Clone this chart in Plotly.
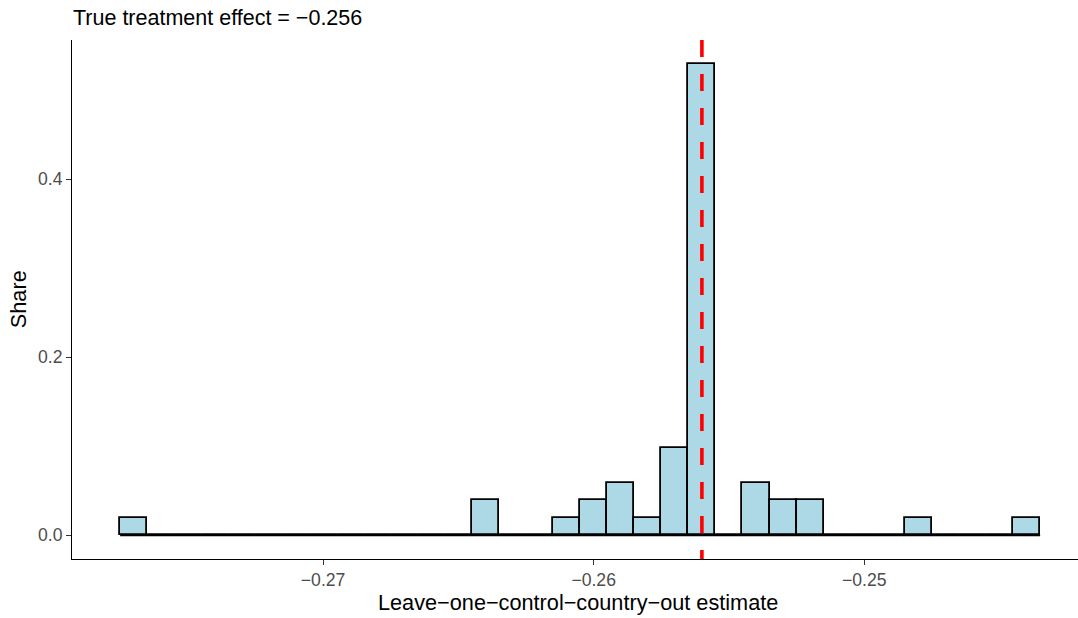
import plotly.graph_objects as go

# Histogram of leave-one-control-country-out estimates (51 estimates, 34 bins)
bin_start = -0.2775
bin_width = 0.001
bin_counts = [1, 0, 0, 0, 0, 0, 0, 0, 0, 0, 0, 0, 0, 2, 0, 0, 1, 2, 3, 1,
              5, 27, 0, 3, 2, 2, 0, 0, 0, 1, 0, 0, 0, 1]
n_estimates = 51
true_effect = -0.256

x_ticks = [-0.27, -0.26, -0.25]
x_tick_labels = ["\u22120.27", "\u22120.26", "\u22120.25"]
y_ticks = [0.0, 0.2, 0.4]
y_tick_labels = ["0.0", "0.2", "0.4"]

centers = [bin_start + bin_width * (i + 0.5) for i in range(len(bin_counts))]
shares = [c / n_estimates for c in bin_counts]
bin_end = bin_start + bin_width * len(bin_counts)

FONT = "Liberation Sans"

fig = go.Figure()

# baseline outline for empty bins
fig.add_trace(go.Scatter(
    x=[bin_start, bin_end], y=[0, 0], mode="lines",
    line=dict(color="black", width=1.8), hoverinfo="skip", showlegend=False,
))

fig.add_trace(go.Bar(
    x=centers, y=shares, width=bin_width,
    marker=dict(color="#ADD8E6", line=dict(color="black", width=1.8)),
    showlegend=False,
))

fig.add_shape(
    type="line", xref="x", yref="paper",
    x0=true_effect, x1=true_effect, y0=1, y1=0,
    line=dict(color="#FF0000", width=3.6, dash="17px,17px"),
    layer="above",
)

axis_common = dict(
    showgrid=False, zeroline=False, showline=True, linecolor="black", linewidth=1.1,
    ticks="outside", ticklen=5, tickwidth=1.1, tickcolor="#333333",
    tickfont=dict(family=FONT, size=17.6, color="#4D4D4D"),
)

fig.update_xaxes(
    range=[-0.27928, -0.24210], tickmode="array",
    tickvals=x_ticks, ticktext=x_tick_labels, **axis_common,
)
fig.update_yaxes(
    range=[-0.0267, 0.5563], tickmode="array",
    tickvals=y_ticks, ticktext=y_tick_labels, **axis_common,
)

fig.add_annotation(
    text=f"True treatment effect = \u2212{abs(true_effect):.3f}",
    xref="paper", yref="paper", x=-0.0005, y=1.0424,
    xanchor="left", yanchor="middle", showarrow=False,
    font=dict(family=FONT, size=21.5, color="black"),
)
fig.add_annotation(
    text="Leave\u2212one\u2212control\u2212country\u2212out estimate",
    xref="paper", yref="paper", x=0.503, y=-0.0845,
    xanchor="center", yanchor="middle", showarrow=False,
    font=dict(family=FONT, size=21.7, color="black"),
)
fig.add_annotation(
    text="Share", textangle=-90,
    xref="paper", yref="paper", x=-0.053, y=0.5,
    xanchor="center", yanchor="middle", showarrow=False,
    font=dict(family=FONT, size=21.7, color="black"),
)

fig.update_layout(
    width=1078, height=618,
    margin=dict(l=72.3, r=0, t=40, b=58.5),
    plot_bgcolor="white", paper_bgcolor="white",
    bargap=0, showlegend=False,
)

fig.write_html("out.html")
